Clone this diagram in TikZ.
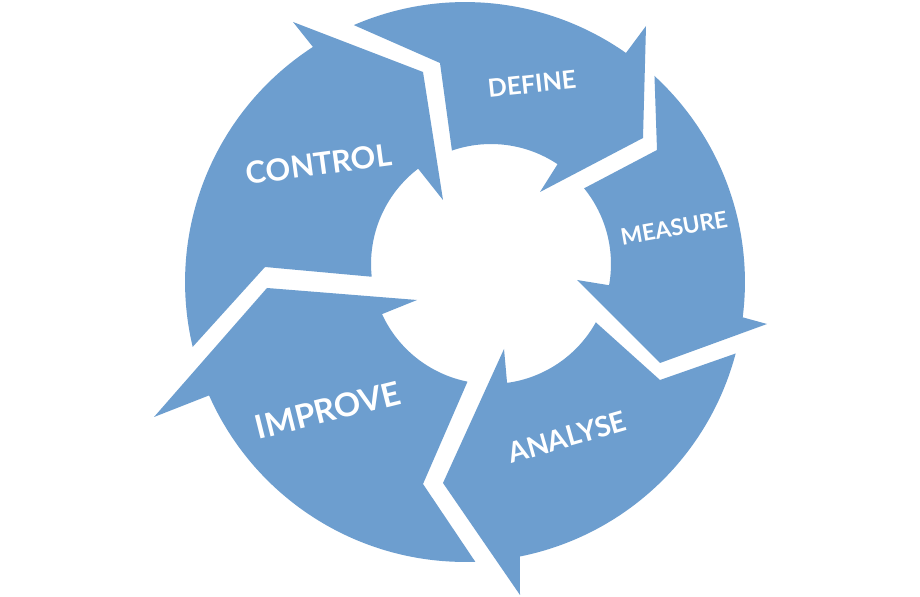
\documentclass[tikz,border=0pt]{standalone}
\usepackage{fontspec}
\setmainfont{Lato}
\usetikzlibrary{calc}
\definecolor{arrowblue}{RGB}{109,158,207}
\begin{document}
\begin{tikzpicture}[x=0.02cm,y=0.02cm,
  seg/.style={fill=arrowblue, draw=none},
  lbl/.style={text=white, inner sep=0pt, anchor=center}]
\useasboundingbox (0,0) rectangle (920,-597);
\fill[white] (0,0) rectangle (920,-597);
\coordinate (Co) at (465,-282);
\coordinate (Ci) at (491,-264);
% DEFINE
\path[seg] ($(Co)+(113.4:5.6cm)$) -- (440,-63) -- ($(Ci)+(109:2.4cm)$)
  arc[start angle=109,end angle=56.3,radius=2.4cm]
  -- (540,-192) -- (643,-138) -- (646,-26) -- ($(Co)+(54.9:5.6cm)$)
  arc[start angle=54.9,end angle=113.4,radius=5.6cm] -- cycle;
% MEASURE
\path[seg] ($(Co)+(47.4:5.6cm)$) -- (657,-150) -- ($(Ci)+(39.1:2.4cm)$)
  arc[start angle=39.1,end angle=-10.2,radius=2.4cm]
  -- (577,-280) -- (660,-363) -- (767,-324) -- ($(Co)+(-7.25:5.6cm)$)
  arc[start angle=-7.25,end angle=47.4,radius=5.6cm] -- cycle;
% ANALYSE
\path[seg] ($(Co)+(-14.8:5.6cm)$) -- (660,-380) -- ($(Ci)+(-29.1:2.4cm)$)
  arc[start angle=-29.1,end angle=-82.3,radius=2.4cm]
  -- (504,-349) -- (443,-483) -- (520,-595) -- ($(Co)+(-78.7:5.6cm)$)
  arc[start angle=-78.7,end angle=-14.8,radius=5.6cm] -- cycle;
% IMPROVE
\path[seg] ($(Co)+(-87.9:5.6cm)$) -- (423,-484) -- ($(Ci)+(-101.3:2.4cm)$)
  arc[start angle=-101.3,end angle=-155.3,radius=2.4cm]
  -- (417,-300) -- (267,-288) -- (154,-417) -- ($(Co)+(-156.1:5.6cm)$)
  arc[start angle=-156.1,end angle=-87.9,radius=5.6cm] -- cycle;
% CONTROL
\path[seg] ($(Co)+(193.4:5.6cm)$) -- (265,-267) -- ($(Ci)+(186.1:2.4cm)$)
  arc[start angle=186.1,end angle=127.4,radius=2.4cm]
  -- (443,-200) -- (423,-72) -- (293,-22) -- ($(Co)+(122.9:5.6cm)$)
  arc[start angle=122.9,end angle=193.4,radius=5.6cm] -- cycle;
% labels
\node[lbl, font=\bfseries\fontsize{14.2}{17}\selectfont, rotate=6] (define) at (532,-84) {DEFINE};
\node[lbl, font=\bfseries\fontsize{13}{15}\selectfont, rotate=10] (measure) at (674,-228) {MEASURE};
\node[lbl, font=\bfseries\fontsize{16}{19}\selectfont, rotate=16] (analyse) at (567,-437) {ANALYSE};
\node[lbl, font=\bfseries\fontsize{18.6}{22}\selectfont, rotate=14] (improve) at (328,-410) {IMPROVE};
\node[lbl, font=\bfseries\fontsize{17.4}{21}\selectfont, rotate=7.6] (control) at (319,-164) {CONTROL};
\end{tikzpicture}
\end{document}
